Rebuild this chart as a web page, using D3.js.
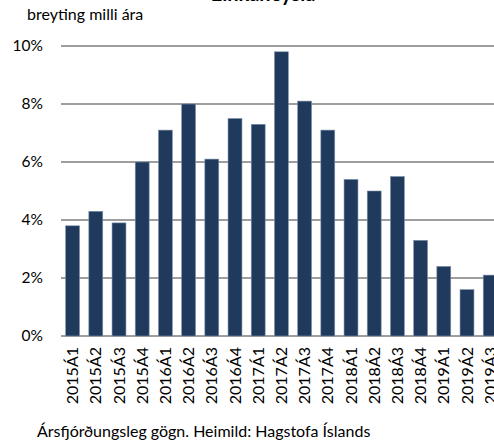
<!DOCTYPE html>
<html>
<head>
<meta charset="utf-8">
<script src="https://cdn.jsdelivr.net/npm/d3@7"></script>
<style>
  body { margin: 0; background: #fff; }
  svg { display: block; font-family: Lato, "Open Sans", sans-serif; }
</style>
</head>
<body>
<div class="chart"></div>
<script>
// quarterly data, year-on-year change
var categories = ["2015Á1","2015Á2","2015Á3","2015Á4","2016Á1","2016Á2","2016Á3","2016Á4",
  "2017Á1","2017Á2","2017Á3","2017Á4","2018Á1","2018Á2","2018Á3","2018Á4","2019Á1","2019Á2","2019Á3"];
var values = [3.8,4.3,3.9,6.0,7.1,8.0,6.1,7.5,7.3,9.8,8.1,7.1,5.4,5.0,5.5,3.3,2.4,1.6,2.1];
var yTicks = [0,2,4,6,8,10];
var title = "Einkaneysla";
var subtitle = "breyting milli ára";
var footer = "Ársfjórðungsleg gögn. Heimild: Hagstofa Íslands";

var width = 494, height = 441;

var svg = d3.select(".chart").append("svg")
    .attr("width", width)
    .attr("height", height);

var x = d3.scaleBand()
    .domain(categories)
    .range([61, 61 + categories.length * 23.2])
    .paddingInner(0.4)
    .paddingOuter(0.2);

var y = d3.scaleLinear()
    .domain([0, 10])
    .range([336, 46]);

// gridlines
svg.append("g")
  .selectAll("line")
  .data(yTicks)
  .enter().append("line")
    .attr("x1", 61)
    .attr("x2", width)
    .attr("y1", d => y(d))
    .attr("y2", d => y(d))
    .attr("stroke", "#9e9e9e")
    .attr("stroke-width", 2);

// y labels
svg.append("g")
  .selectAll("text")
  .data(yTicks)
  .enter().append("text")
    .attr("x", 43)
    .attr("y", d => y(d))
    .attr("dy", "0.35em")
    .attr("text-anchor", "end")
    .attr("font-size", 15.5)
    .attr("fill", "#000")
    .text(d => d + "%");

// bars
svg.append("g")
  .selectAll("rect")
  .data(values)
  .enter().append("rect")
    .attr("x", (d, i) => x(categories[i]))
    .attr("width", x.bandwidth())
    .attr("y", d => y(d))
    .attr("height", d => y(0) - y(d))
    .attr("fill", "#1f3a5c")
    .attr("stroke", "#7f93aa")
    .attr("stroke-width", 0.6);

// x labels (rotated)
svg.append("g")
  .selectAll("text")
  .data(categories)
  .enter().append("text")
    .attr("transform", d => "translate(" + (x(d) + x.bandwidth() / 2) + ",347) rotate(-90)")
    .attr("dy", "0.35em")
    .attr("text-anchor", "end")
    .attr("font-size", 16)
    .attr("fill", "#000")
    .text(d => d);

svg.append("text")
    .attr("x", 263)
    .attr("y", 1)
    .attr("text-anchor", "middle")
    .attr("font-size", 20)
    .attr("font-weight", "bold")
    .text(title);

svg.append("text")
    .attr("x", 27)
    .attr("y", 20)
    .attr("font-size", 16)
    .text(subtitle);

svg.append("text")
    .attr("x", 37)
    .attr("y", 437)
    .attr("font-size", 16)
    .text(footer);
</script>
</body>
</html>
